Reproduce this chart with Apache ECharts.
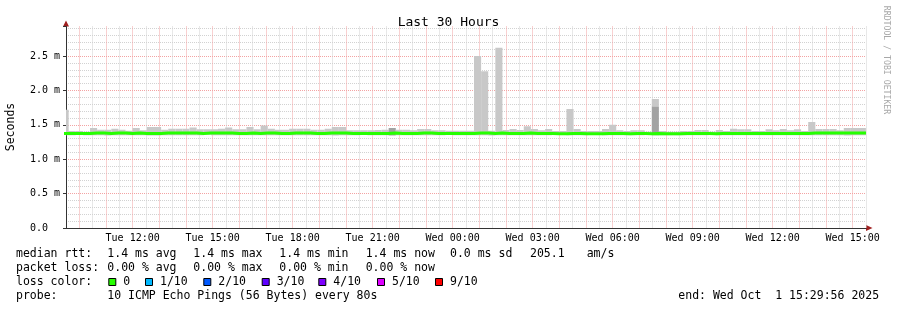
<!DOCTYPE html>
<html><head><meta charset="utf-8">
<script src="https://cdn.jsdelivr.net/npm/echarts@6/dist/echarts.min.js"></script>
<style>html,body{margin:0;padding:0;background:#fff}#c{width:897px;height:310px}</style>
</head><body><div id="c"></div>
<script>
// ---- data (RRD bins of 16 min, first bin starts Tue 09:20) ----
const binStartMinutes = 560;   // minutes after Tue 00:00
const binMinutes = 16;
const axisStartHour = 9.5;     // Tue 09:30
const axisEndHour = 39.5;      // Wed 15:30 (end: 15:29:56)

const smokeHi = [1.72,1.41,1.41,1.40,1.455,1.43,1.43,1.445,1.43,1.415,
 1.455,1.42,1.47,1.47,1.43,1.445,1.445,1.445,1.46,1.435,
 1.435,1.435,1.445,1.46,1.435,1.435,1.47,1.435,1.49,1.445,
 1.43,1.43,1.445,1.445,1.445,1.43,1.43,1.445,1.47,1.47,
 1.42,1.42,1.42,1.42,1.425,1.43,1.455,1.43,1.43,1.42,
 1.44,1.44,1.42,1.42,1.415,1.415,1.415,1.415,2.50,2.28,
 1.415,2.62,1.425,1.44,1.425,1.48,1.44,1.42,1.44,1.41,
 1.41,1.73,1.44,1.41,1.41,1.41,1.44,1.50,1.42,1.41,
 1.42,1.42,1.40,1.876,1.41,1.40,1.40,1.41,1.41,1.425,
 1.425,1.40,1.425,1.41,1.445,1.435,1.435,1.41,1.41,1.435,
 1.42,1.44,1.42,1.435,1.41,1.54,1.44,1.44,1.44,1.42,
 1.455,1.455,1.455,1.455];
// upper edge of the darker inner smoke (null = none)
const smokeDark = [null,null,null,null,null,null,null,null,null,null,
 null,null,null,null,null,null,null,null,null,null,
 null,null,null,null,null,null,null,null,null,null,
 null,null,null,null,null,null,null,null,null,null,
 null,null,null,null,null,null,1.455,null,null,null,
 null,null,null,null,null,null,null,null,null,null,
 null,null,null,null,null,null,null,null,null,null,
 null,null,null,null,null,null,null,null,null,null,
 null,null,null,1.765,null,null,null,null,null,null,
 null,null,null,null,null,null,null,null,null,null,
 null,null,null,null,null,null,null,null,null,null,
 null,null,null,null];
const smokeLo = [1.35,1.35,1.355,1.35,1.35,1.35,1.345,1.35,1.35,1.35,
 1.35,1.35,1.345,1.345,1.35,1.35,1.35,1.35,1.35,1.35,
 1.355,1.35,1.35,1.35,1.35,1.35,1.35,1.35,1.35,1.35,
 1.35,1.35,1.35,1.35,1.35,1.35,1.35,1.35,1.345,1.35,
 1.35,1.35,1.355,1.35,1.35,1.35,1.345,1.35,1.35,1.35,
 1.35,1.35,1.35,1.35,1.355,1.35,1.35,1.35,1.35,1.35,
 1.345,1.35,1.35,1.35,1.35,1.35,1.35,1.35,1.35,1.355,
 1.355,1.35,1.35,1.35,1.355,1.355,1.35,1.35,1.35,1.35,
 1.35,1.35,1.355,1.35,1.35,1.35,1.35,1.35,1.35,1.35,
 1.35,1.355,1.35,1.35,1.35,1.35,1.35,1.35,1.35,1.35,
 1.35,1.35,1.35,1.35,1.35,1.35,1.35,1.35,1.35,1.35,
 1.345,1.35,1.35,1.35];
const medianRtt = [1.375,1.375,1.375,1.375,1.38,1.38,1.375,1.38,1.38,1.375,
 1.38,1.375,1.375,1.375,1.38,1.38,1.38,1.38,1.38,1.375,
 1.38,1.38,1.38,1.38,1.375,1.375,1.38,1.375,1.38,1.38,
 1.375,1.375,1.38,1.38,1.38,1.375,1.375,1.38,1.38,1.38,
 1.375,1.375,1.375,1.375,1.375,1.375,1.38,1.375,1.375,1.375,
 1.38,1.38,1.375,1.375,1.375,1.375,1.375,1.375,1.38,1.38,
 1.375,1.38,1.375,1.375,1.375,1.38,1.375,1.375,1.375,1.37,
 1.37,1.375,1.375,1.37,1.37,1.37,1.375,1.375,1.375,1.37,
 1.375,1.375,1.37,1.375,1.37,1.37,1.37,1.375,1.375,1.375,
 1.375,1.37,1.375,1.375,1.375,1.375,1.375,1.375,1.375,1.375,
 1.375,1.375,1.375,1.375,1.375,1.38,1.38,1.38,1.38,1.38,
 1.38,1.38,1.38,1.38];

const xTickHours = [12,15,18,21,24,27,30,33,36,39];
const xTickLabels = ['Tue 12:00','Tue 15:00','Tue 18:00','Tue 21:00','Wed 00:00','Wed 03:00','Wed 06:00','Wed 09:00','Wed 12:00','Wed 15:00'];
const yTickLabels = ['0.0  ','0.5 m','1.0 m','1.5 m','2.0 m','2.5 m'];

const lossLabels = ['0','1/10','2/10','3/10','4/10','5/10','9/10'];
const lossColors = ['#26ff00','#00b8ff','#0059ff','#5e00ff','#7e00ff','#dd00ff','#ff0000'];

// ---- build series data ----
const n = smokeHi.length;
const binStart = i => (binStartMinutes + i * binMinutes) / 60;
const smokeData = smokeHi.map((hi, i) => [binStart(i), binStart(i + 1), smokeLo[i],
  smokeDark[i] == null ? smokeLo[i] : smokeDark[i], hi]);
const medData = medianRtt.map((v, i) => [binStart(i), v]);
medData.push([axisEndHour, medianRtt[n - 1]]);

const MONO = '"DejaVu Sans Mono", monospace';
const red = '#f3a3a3', gray = '#d2d2d2';
const yMax = 2.93;

const chart = echarts.init(document.getElementById('c'), null, {renderer: 'canvas'});
const T = (x, y, text, extra) => Object.assign({type: 'text', x: x, y: y, silent: true,
  style: Object.assign({text: text, font: '11.5px ' + MONO, fill: '#000', verticalAlign: 'middle'}, extra || {})});

const graphics = [
  T(16, 254, 'median rtt:'), T(107.3, 254, '1.4 ms avg'), T(193.3, 254, '1.4 ms max'),
  T(279.3, 254, '1.4 ms min'), T(365.7, 254, '1.4 ms now'), T(450, 254, '0.0 ms sd'),
  T(530, 254, '205.1'), T(586.7, 254, 'am/s'),
  T(16, 268, 'packet loss:'), T(107.3, 268, '0.00 % avg'), T(193.3, 268, '0.00 % max'),
  T(279.3, 268, '0.00 % min'), T(365.7, 268, '0.00 % now'),
  T(16, 282, 'loss color:'),
  T(16, 296, 'probe:'), T(107.3, 296, '10 ICMP Echo Pings (56 Bytes) every 80s'),
  T(678.3, 296, 'end: Wed Oct  1 15:29:56 2025'),
  {type: 'text', x: 11, y: 127, rotation: Math.PI / 2, silent: true,
   style: {text: 'Seconds', font: '11.5px ' + MONO, fill: '#000', align: 'center', verticalAlign: 'middle'}},
  {type: 'text', x: 886, y: 60, rotation: -Math.PI / 2, silent: true,
   style: {text: 'RRDTOOL / TOBI OETIKER', font: '8.2px ' + MONO, fill: '#a8a8a8', align: 'center', verticalAlign: 'middle'}},
  {type: 'polygon', silent: true, shape: {points: [[63, 26.5], [69, 26.5], [66, 20.5]]}, style: {fill: '#a02020'}},
  {type: 'polygon', silent: true, shape: {points: [[866, 225], [866, 231], [872.5, 228]]}, style: {fill: '#a02020'}}
];
const lossTextX = [123.3, 160, 218.3, 276.7, 333.3, 392, 450];
lossLabels.forEach((lab, i) => {
  graphics.push({type: 'rect', silent: true, shape: {x: lossTextX[i] - 14.5, y: 278.5, width: 7, height: 7},
    style: {fill: lossColors[i], stroke: '#000', lineWidth: 1}});
  graphics.push(T(lossTextX[i], 282, lab));
});

function renderSmoke(params, api) {
  const x0 = api.value(0), x1 = api.value(1);
  const lo = api.value(2), dk = api.value(3), hi = api.value(4);
  const cs = params.coordSys;
  const clipR = {x: cs.x, y: cs.y, width: cs.width, height: cs.height};
  const rect = (a, b) => {
    const p0 = api.coord([x0, b]), p1 = api.coord([x1, a]);
    return echarts.graphic.clipRectByRect({x: p0[0], y: p0[1], width: p1[0] - p0[0], height: p1[1] - p0[1]}, clipR);
  };
  const children = [];
  const lightR = rect(dk, hi);
  if (lightR) children.push({type: 'rect', shape: lightR, style: {fill: '#c8c8c8'}});
  if (dk > lo) {
    const darkR = rect(lo, dk);
    if (darkR) children.push({type: 'rect', shape: darkR, style: {fill: '#a2a2a2'}});
  }
  return {type: 'group', children: children};
}

chart.setOption({
  animation: false,
  backgroundColor: '#fff',
  title: {text: 'Last 30 Hours', left: 'center', top: 11,
    textStyle: {fontFamily: MONO, fontSize: 13, fontWeight: 'normal', color: '#000'}},
  grid: {left: 66, right: 31, top: 26.5, bottom: 82, containLabel: false, outerBoundsMode: 'none'},
  xAxis: {
    type: 'value', min: axisStartHour, max: axisEndHour, interval: 0.5,
    axisLine: {show: true, onZero: false, lineStyle: {color: '#333', width: 1}},
    axisTick: {show: false},
    axisLabel: {margin: 5, fontFamily: MONO, fontSize: 10, color: '#000', showMinLabel: true, showMaxLabel: true,
      formatter: v => { const i = xTickHours.findIndex(h => Math.abs(h - v) < 1e-6); return i < 0 ? '' : xTickLabels[i]; }},
    splitLine: {show: true, lineStyle: {color: [gray, red], type: [1, 1], width: 1}}
  },
  yAxis: [{
    type: 'value', min: 0, max: yMax, interval: 0.1,
    axisLine: {show: true, lineStyle: {color: '#333', width: 1}},
    axisTick: {show: false},
    axisLabel: {margin: 6, fontFamily: MONO, fontSize: 10, color: '#000', showMaxLabel: false,
      formatter: v => { const r = Math.round(v * 10); return (r % 5 === 0 && Math.abs(v * 10 - r) < 1e-6) ? (yTickLabels[r / 5] || '') : ''; }},
    splitLine: {show: true, showMaxLine: false, lineStyle: {color: [red, gray, gray, gray, gray], type: [1, 1], width: 1}}
  }, {
    type: 'value', min: 0, max: yMax, interval: 0.5, position: 'left',
    axisLine: {show: false}, axisLabel: {show: false}, splitLine: {show: false},
    axisTick: {show: true, length: 3, lineStyle: {color: '#333'}}
  }],
  series: [
    {name: 'smoke', type: 'custom', renderItem: renderSmoke, data: smokeData, silent: true,
     encode: {x: [0, 1], y: [2, 3, 4]}, clip: true, z: 2},
    {name: 'median', type: 'line', step: 'end', data: medData, symbol: 'none', silent: true,
     lineStyle: {color: '#26ff00', width: 3}, z: 3}
  ],
  graphic: graphics
});
</script></body></html>
